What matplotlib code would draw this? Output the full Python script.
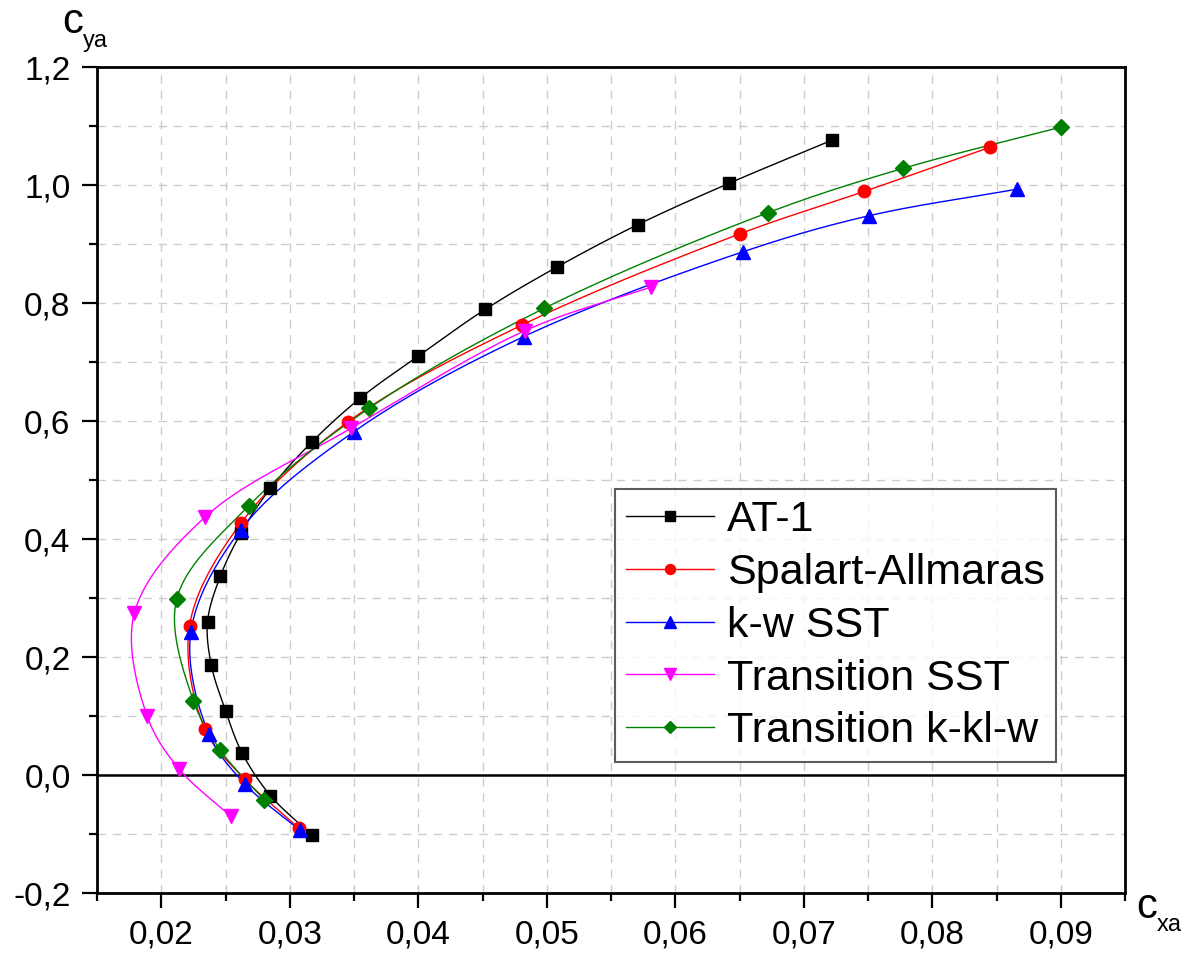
import numpy as np
import matplotlib
matplotlib.use("Agg")
import matplotlib.pyplot as plt
from matplotlib.lines import Line2D
from matplotlib.ticker import MultipleLocator, FixedLocator

plt.rcParams['font.family'] = ['Liberation Sans', 'DejaVu Sans']

# ---------------- data ----------------
at1_x = [0.0317, 0.0285, 0.0263, 0.0250, 0.0239, 0.0236, 0.0246, 0.0262, 0.0285,
         0.0317, 0.0355, 0.0400, 0.0452, 0.0508, 0.0571, 0.0642, 0.0722]
at1_y = [-0.102, -0.035, 0.037, 0.109, 0.186, 0.260, 0.337, 0.410, 0.486,
         0.564, 0.639, 0.710, 0.789, 0.861, 0.933, 1.003, 1.076]

sa_x = [0.0307, 0.0265, 0.0234, 0.0222, 0.0262, 0.0345, 0.0481, 0.0650, 0.0747, 0.0845]
sa_y = [-0.090, -0.007, 0.078, 0.253, 0.427, 0.598, 0.763, 0.917, 0.989, 1.064]

kw_x = [0.0308, 0.0265, 0.0237, 0.0223, 0.0262, 0.0350, 0.0482, 0.0653, 0.0751, 0.0866]
kw_y = [-0.094, -0.015, 0.070, 0.242, 0.416, 0.582, 0.743, 0.887, 0.948, 0.993]

tsst_x = [0.0254, 0.0214, 0.0189, 0.0179, 0.0234, 0.0348, 0.0483, 0.0581]
tsst_y = [-0.070, 0.010, 0.100, 0.274, 0.437, 0.588, 0.753, 0.827]

kkl_x = [0.0280, 0.0246, 0.0225, 0.0212, 0.0268, 0.0362, 0.0498, 0.0672, 0.0777, 0.0900]
kkl_y = [-0.042, 0.042, 0.126, 0.298, 0.456, 0.622, 0.791, 0.953, 1.028, 1.098]

series_names = ["AT-1", "Spalart-Allmaras", "k-w SST", "Transition SST", "Transition k-kl-w"]
xtick_vals = [0.02, 0.03, 0.04, 0.05, 0.06, 0.07, 0.08, 0.09]
xtick_labels = ["0,02", "0,03", "0,04", "0,05", "0,06", "0,07", "0,08", "0,09"]
ytick_vals = [-0.2, 0.0, 0.2, 0.4, 0.6, 0.8, 1.0, 1.2]
ytick_labels = ["-0,2", "0,0", "0,2", "0,4", "0,6", "0,8", "1,0", "1,2"]

XMIN, XMAX, YMIN, YMAX = 0.015, 0.095, -0.2, 1.2

# ---------------- figure ----------------
W, H = 1194, 956
fig = plt.figure(figsize=(W / 100, H / 100), dpi=100)
L, R, T, B = 97, 1125, 67, 893
ax = fig.add_axes([L / W, 1 - B / H, (R - L) / W, (B - T) / H])
ax.set_xlim(XMIN, XMAX)
ax.set_ylim(YMIN, YMAX)

sx = (R - L) / (XMAX - XMIN)
sy = (B - T) / (YMAX - YMIN)


def smooth(x, y, n=24, alpha=0.5):
    P = np.column_stack([np.asarray(x) * sx, np.asarray(y) * sy])
    P = np.vstack([2 * P[0] - P[1], P, 2 * P[-1] - P[-2]])
    out = []
    for i in range(1, len(P) - 2):
        p0, p1, p2, p3 = P[i - 1], P[i], P[i + 1], P[i + 2]
        t0 = 0.0
        t1 = t0 + max(np.linalg.norm(p1 - p0), 1e-6) ** alpha
        t2 = t1 + max(np.linalg.norm(p2 - p1), 1e-6) ** alpha
        t3 = t2 + max(np.linalg.norm(p3 - p2), 1e-6) ** alpha
        t = np.linspace(t1, t2, n)[:, None]
        A1 = (t1 - t) / (t1 - t0) * p0 + (t - t0) / (t1 - t0) * p1
        A2 = (t2 - t) / (t2 - t1) * p1 + (t - t1) / (t2 - t1) * p2
        A3 = (t3 - t) / (t3 - t2) * p2 + (t - t2) / (t3 - t2) * p3
        B1 = (t2 - t) / (t2 - t0) * A1 + (t - t0) / (t2 - t0) * A2
        B2 = (t3 - t) / (t3 - t1) * A2 + (t - t1) / (t3 - t1) * A3
        C = (t2 - t) / (t2 - t1) * B1 + (t - t1) / (t2 - t1) * B2
        out.append(C if i == 1 else C[1:])
    out = np.vstack(out)
    return out[:, 0] / sx, out[:, 1] / sy


# grid
grid_kw = dict(color="#cccccc", lw=1.0, ls=(0, (6, 5)), zorder=0)
for xv in np.arange(0.02, 0.0951, 0.005):
    if XMIN < xv < XMAX - 1e-9:
        ax.axvline(xv, **grid_kw)
for yv in np.arange(-0.1, 1.15, 0.1):
    if abs(yv) > 1e-9:
        ax.axhline(yv, **grid_kw)

ax.axhline(0.0, color="black", lw=1.8, zorder=1)

styles = [
    (at1_x, at1_y, "black", "s", 8.5),
    (sa_x, sa_y, "#ff0000", "o", 9.0),
    (kw_x, kw_y, "#0000ff", "^", 10.0),
    (tsst_x, tsst_y, "#ff00ff", "v", 10.0),
    (kkl_x, kkl_y, "#008000", "D", 8.0),
]
handles = []
for (xs, ys, c, m, ms), name in zip(styles, series_names):
    cx, cy = smooth(xs, ys)
    ax.plot(cx, cy, color=c, lw=1.0, zorder=2)
    ax.plot(xs, ys, ls="none", marker=m, ms=ms, color=c, mec=c, zorder=3)
    handles.append(Line2D([], [], color=c, lw=1.0, marker=m, ms=ms * 0.8, mec=c))

# axes styling
for s in ax.spines.values():
    s.set_linewidth(2.0)
ax.xaxis.set_major_locator(FixedLocator(xtick_vals))
ax.set_xticklabels(xtick_labels)
ax.xaxis.set_minor_locator(MultipleLocator(0.005))
ax.yaxis.set_major_locator(FixedLocator(ytick_vals))
ax.set_yticklabels(ytick_labels)
ax.yaxis.set_minor_locator(MultipleLocator(0.1))
ax.tick_params(which="major", direction="out", length=11, width=1.6, labelsize=24, pad=8,
               top=False, right=False)
ax.tick_params(which="minor", direction="out", length=6, width=1.6, top=False, right=False)

leg = ax.legend(handles, series_names, loc="upper right",
                bbox_to_anchor=((1056 - L) / (R - L), 1 - (489 - T) / (B - T)),
                fontsize=31, frameon=True, fancybox=False, borderpad=0.25,
                labelspacing=0.3, handlelength=2.05, handletextpad=0.3,
                borderaxespad=0.0)
leg.get_frame().set_edgecolor("#333333")
leg.get_frame().set_linewidth(1.5)
leg.set_zorder(5)

# axis titles
fig.text(62 / W, 1 - 33 / H, "c", fontsize=30, va="baseline", ha="left")
fig.text(83 / W, 1 - 47 / H, "ya", fontsize=17, va="baseline", ha="left")
fig.text(1136 / W, 1 - 918 / H, "c", fontsize=30, va="baseline", ha="left")
fig.text(1157 / W, 1 - 931 / H, "xa", fontsize=17, va="baseline", ha="left")

fig.savefig("out.png", dpi=100)
